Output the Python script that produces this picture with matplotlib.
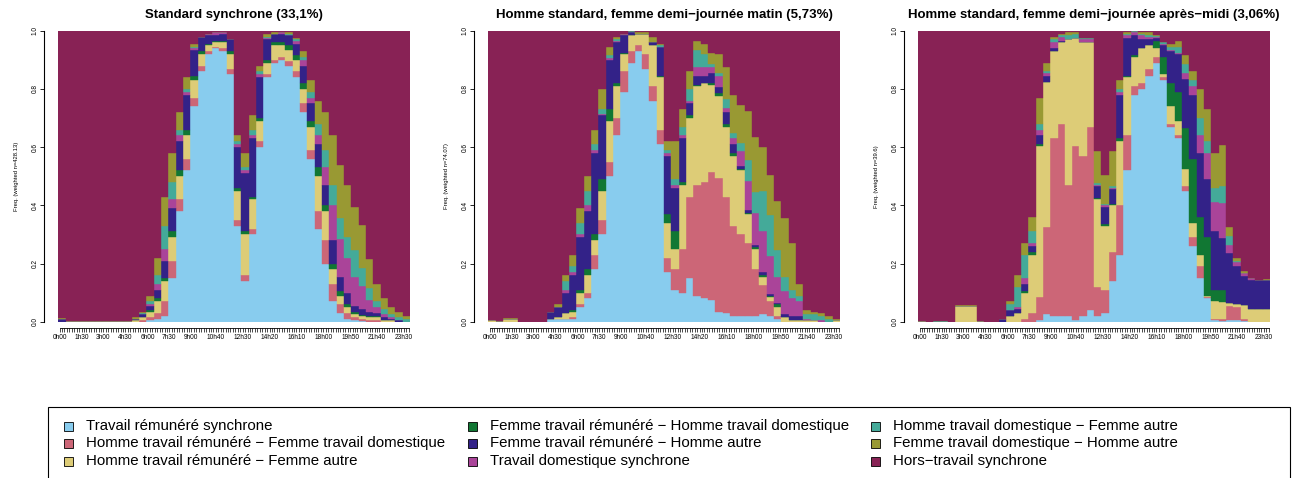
import numpy as np
import matplotlib
matplotlib.use("Agg")
import matplotlib.pyplot as plt
from matplotlib.patches import Rectangle

plt.rcParams['font.family'] = ['Liberation Sans', 'DejaVu Sans']

# state distribution, half-hour slots (48 per day), values in % of couples
titles = ["Standard synchrone (33,1%)",
          "Homme standard, femme demi\u2212journée matin (5,73%)",
          "Homme standard, femme demi\u2212journée après\u2212midi (3,06%)"]
ylabels = ["Freq. (weighted n=428.13)", "Freq. (weighted n=74.07)", "Freq. (weighted n=39.6)"]

states = ["Travail rémunéré synchrone",
          "Homme travail rémunéré \u2212 Femme travail domestique",
          "Homme travail rémunéré \u2212 Femme autre",
          "Femme travail rémunéré \u2212 Homme travail domestique",
          "Femme travail rémunéré \u2212 Homme autre",
          "Travail domestique synchrone",
          "Homme travail domestique \u2212 Femme autre",
          "Femme travail domestique \u2212 Homme autre",
          "Hors\u2212travail synchrone"]
colors = ["#88CCEE", "#CC6677", "#DDCC77", "#117733", "#332288",
          "#AA4499", "#44AA99", "#999933", "#882255"]

# panel 1 : Standard synchrone
p1_trs = [0,0,0,0,0,0,0,0,0,0,0,0,0.5,1,2,15,38,52,74,86,92,94,93,85,
          33,14,30,60,84,89,90,88,84,72,56,32,20,7,3,1,0.5,0.3,0,0,0,0,0,0]
p1_htr_ftd = [0,0,0,0,0,0,0,0,0,0,0,0.5,1,2,5,6,4,4,3,2,1,0.5,1,2,
              2,2,2,2,1,1,1,1.5,2,3,3,6,8,6,3,2,1,0.5,0.5,0.5,0,0,0,0]
p1_htr_fa = [0,0.3,0.3,0.3,0.2,0.2,0.2,0.2,0.2,0.3,0.5,1,2,4,7,8,8,8,6,4,2,1.5,2,5,
             10,14,10,7,4,5,4,4,4,5,8,12,10,5,3,2,1,1,1,1,0.5,0.5,0,0]
p1_ftr_htd = [0,0,0,0,0,0,0,0,0,0,0,0,0.5,1,1,2,2,2,1.5,1,0.5,0.5,0.5,1,
              1,1,1,1,1,1,1,1.5,1.5,2,2,3,2,2,1.5,1,1,0.5,0.5,0.5,0,0,0,0]
p1_ftr_ha = [1,0,0,0,0,0,0,0,0,0,0.5,1,1.5,3,6,8,10,12,9,5,3,2,2.5,4,
             14,20,20,14,7,3,3,3.5,4,6,6,8,7,8,5,4,2,2,1.5,1,1,0.5,0.5,0]
p1_td = [0,0,0,0,0,0,0,0,0,0,0,0,0.5,2,4,3,2,1,0.5,0,0.5,1,0.5,0,
         1,1,1,1,0.5,0,0.5,0,1,2,2,3,6,12,13,12,10,8,4,2,1,0.5,0,0]
p1_htd_fa = [0,0,0,0,0,0,0,0,0,0,0,0.5,1,3,8,6,2,1,0.5,0,0,0,0,0,
             1,1,2,1,0.5,0,0,0.5,0.5,1,2,4,6,7,7,7,9,6,4,2,2,1,1,1]
p1_ftd_ha = [0.2,0,0,0,0,0,0,0,0,0,0.5,0.5,2,6,10,10,6,4,1,0,0,0,0,0,
             2,5,5,2,1,0.5,0,0.5,0.5,2,4,8,13,17,18.5,18,15,15,10,6,3.5,2.5,2,1]

# panel 2 : femme demi-journée matin
p2_trs = [0,0,0,0,0,0,0,0,1,1,1,1,5,8,18,30,50,64,79,89,93,87,76,61,
          17,11,10,15,9,8,7.5,3.5,3,2,2,2,2,2.5,2,1,0,0,0,0,0,0,0,0]
p2_htr_ftd = [0,0,0,0,0,0,0,0,0,0,0,0.5,1,2,5,5,5,6,7,4,2,5,5,5,
              5,7,15,28,38,40,44,46,40,31,28,25,16,10,5,1,0,0,0,0,0,0,0,0]
p2_htr_fa = [0.5,0.3,0.8,0.8,0,0,0,0,0,0.5,2,2,4,6,5,10,14,11,6,5.5,4,7,14,18,
             12,7,22,27,34,34,30,28,24,24,22,10,7,3,1.5,3,1.5,0.5,0.5,0.5,0.5,0,0,0.5]
p2_ftr_htd = [0,0,0,0,0,0,0,0,0,0,0,0.5,1,2,2,4,4,1,0.5,0,0,0,0,0.5,
              3,6,1,1,0.5,0,0.5,1,1,1,0.5,0.5,0.5,0.5,0.5,1,0,0,0,0,0,0,0,0]
p2_ftr_ha = [0,0,0,0,0,0,0,0,2.5,3.5,7,12,18,20,28,22,17,14,6,1,0,0,1,10,
             20,15,15,4,3,2.5,3.5,2,4,3,1,1,1,1,0.5,0.5,1,1.5,1.5,0,0,0,0,0]
p2_td = [0,0,0,0,0,0,0,0,0,0,1,1,1,2,1,0.5,0.5,0.5,0.5,0,0,0,0,0,
         1,1,1,1,3,3,2,4,1.5,2,5,10,11,14,13,9,8,6,5,0.5,0,0.5,0,0]
p2_htd_fa = [0,0,0,0,0,0,0,0,0,0,3,2,4,5,2,1.5,1,0.5,0,0.3,0,0,0,0.5,
             1,2,3,4,6,4.5,1,1,3,2,3,7,7,14,14,9,5,3,2,1.5,2,1.5,1,0]
p2_ftd_ha = [0,0,0.3,0.3,0,0,0,0,0,1,2,4,5,5,5,7,3,1,0,0,0.5,0.5,2,0.5,
             3,13,6,6,3,3.5,4,6.5,11,13,13,17,19,15,14,17,20,16,4,1.5,1,1,1,0.5]

# panel 3 : femme demi-journée après-midi
p3_trs = [0,0,0,0,0,0,0,0,0,0,0,0,0,0,0,0,0.5,2.5,2,2,2,0.5,2,4,
          2,3,14,23,52,78,80,84.5,89,83,67,63,45,26,15,8,0.5,0.3,0.5,0.5,0.3,0,0,0]
p3_htr_ftd = [0,0,0,0,0,0,0,0,0,0,0,0,0,0,1,3,8,30,61,66,45,60,55,63,
              10,8,10,17,12,3,2,2.5,2,1,1,1,1.5,3,4,0.5,0.5,0.5,5,4.5,0.5,0,0,0]
p3_htr_fa = [0.3,0,0,0,0,5.5,5.5,5.5,0.3,0,0,0,2,3,9,20,52,50,30,28,50,37,39,29,
             30,22,16,22,20,10,12,8,3,1,6,5,6,5,4,0.5,6,6,1,1,5,4.5,4.5,4.5]
p3_ftr_htd = [0,0,0,0,0,0,0,0,0,0,0,0,0,0,0.5,1,0.5,0,0,0,0,0,0,0,
              0.5,0.5,0.5,1,0.5,0.5,0,0,2.5,6,8,10,14,22,13,20,4,4,0,0,0,0,0,0]
p3_ftr_ha = [0,0,0,0,0,0,0,0,0,0,0,1,2,1.5,2.5,2,3,2,1,0.5,0,0,0,0,
             4,6,5,15,13,7,3,2,1,4,11,13,17,22,22,20,20,18,17,13,10,10,10,10]
p3_td = [0,0,0,0,0,0,0,0,0,0,0,0,0,0.5,2,1,2,1,2,1.5,0,0,1,1,
         0.5,0.5,0.5,1,1,1,1.5,1,0.3,0.5,0.5,0.5,2,3,6,9,10,12,3,1.5,1,0.5,0,0]
p3_htd_fa = [0,0,0.3,0.3,0,0,0,0,0,0,0,0,2,7,8,4,2,0.5,1,0.5,1.5,1.5,0.5,0.5,
             0.5,0.5,0.5,1,0.5,0.5,0.5,0.5,0.3,0.5,1,2,3,2,6,4,5,6,3,0.5,0,0,0,0]
p3_ftd_ha = [0,0,0,0,0,0.3,0.3,0.3,0,0,0,0,1,4,4,5,9,3,1,0.5,1,0.5,0,0,
             11,10,12,3,0.5,0,0.5,1,0.3,0,1,2,3,3,10,11,12,14,3,1,0.5,0,0,0.3]

panels = [
    [p1_trs, p1_htr_ftd, p1_htr_fa, p1_ftr_htd, p1_ftr_ha, p1_td, p1_htd_fa, p1_ftd_ha],
    [p2_trs, p2_htr_ftd, p2_htr_fa, p2_ftr_htd, p2_ftr_ha, p2_td, p2_htd_fa, p2_ftd_ha],
    [p3_trs, p3_htr_ftd, p3_htr_fa, p3_ftr_htd, p3_ftr_ha, p3_td, p3_htd_fa, p3_ftd_ha],
]

# 144 ten-minute ticks, R keeps only the labels that do not overlap
n_ticks = 144
label_idx = [0, 9, 18, 27, 36, 45, 54, 64, 75, 86, 97, 108, 119, 130, 141]

W, H = 1299, 478
fig = plt.figure(figsize=(W / 100, H / 100), dpi=100)

lefts = [58.3, 488.3, 918.3]
pw = 351.7
top_px, bot_px = 30.7, 321.7

for k, series in enumerate(panels):
    ax = fig.add_axes([lefts[k] / W, 1 - bot_px / H, pw / W, (bot_px - top_px) / H])
    arr = np.array(series, dtype=float) / 100.0
    rest = 1.0 - arr.sum(axis=0)   # hors-travail fills the rest
    arr = np.vstack([arr, rest])
    x = np.arange(arr.shape[1]) * 3
    bottom = np.zeros(arr.shape[1])
    for s in range(arr.shape[0]):
        ax.bar(x, arr[s], width=3, bottom=bottom, align='edge',
               color=colors[s], edgecolor=colors[s], linewidth=0.3)
        bottom += arr[s]
    ax.set_xlim(0, n_ticks)
    ax.set_ylim(0, 1)

    for sp in ['top', 'right']:
        ax.spines[sp].set_visible(False)
    ax.spines['left'].set_position(('outward', 10))
    ax.spines['left'].set_bounds(0, 1)
    ax.spines['left'].set_linewidth(0.8)
    ax.spines['bottom'].set_position(('outward', 4.3))
    ax.spines['bottom'].set_bounds(0.5, n_ticks - 0.5)
    ax.spines['bottom'].set_linewidth(0.6)

    ticks = np.arange(n_ticks) + 0.5
    labels = ["%dh%02d" % ((i * 10) // 60, (i * 10) % 60) if i in label_idx else ""
              for i in range(n_ticks)]
    ax.set_xticks(ticks)
    ax.set_xticklabels(labels, fontsize=4.7)
    ax.tick_params(axis='x', length=2.9, width=0.5, pad=1.5)

    ax.set_yticks([0, 0.2, 0.4, 0.6, 0.8, 1.0])
    ax.set_yticklabels(["0.0", "0.2", "0.4", "0.6", "0.8", "1.0"],
                       fontsize=4.7, rotation=90, va='center')
    ax.tick_params(axis='y', length=2.9, width=0.6, pad=1.5)

    ax.text(-42 / pw, 0.5, ylabels[k], transform=ax.transAxes, rotation=90,
            fontsize=4.2, ha='center', va='center')
    ax.set_title(titles[k], fontsize=9.5, fontweight='bold', pad=9)

# legend box, R style, three columns
box_l, box_r, box_t = 48, 1290, 407
fig.patches.append(Rectangle((box_l / W, -0.02), (box_r - box_l) / W, 0.02 + (H - box_t) / H,
                             transform=fig.transFigure, fill=False,
                             edgecolor='black', linewidth=0.8))
col_text = [86, 490, 893]
row_y = [426, 443, 461]
sq = 9
for s, name in enumerate(states):
    c, r = s // 3, s % 3
    tx, ty = col_text[c], row_y[r]
    fig.patches.append(Rectangle(((tx - 18 - sq / 2) / W, 1 - (ty + sq / 2) / H),
                                 sq / W, sq / H, transform=fig.transFigure,
                                 facecolor=colors[s], edgecolor='black', linewidth=0.6))
    fig.text(tx / W, 1 - ty / H, name, fontsize=10.85, ha='left', va='center')

fig.savefig("out.png", dpi=100)
